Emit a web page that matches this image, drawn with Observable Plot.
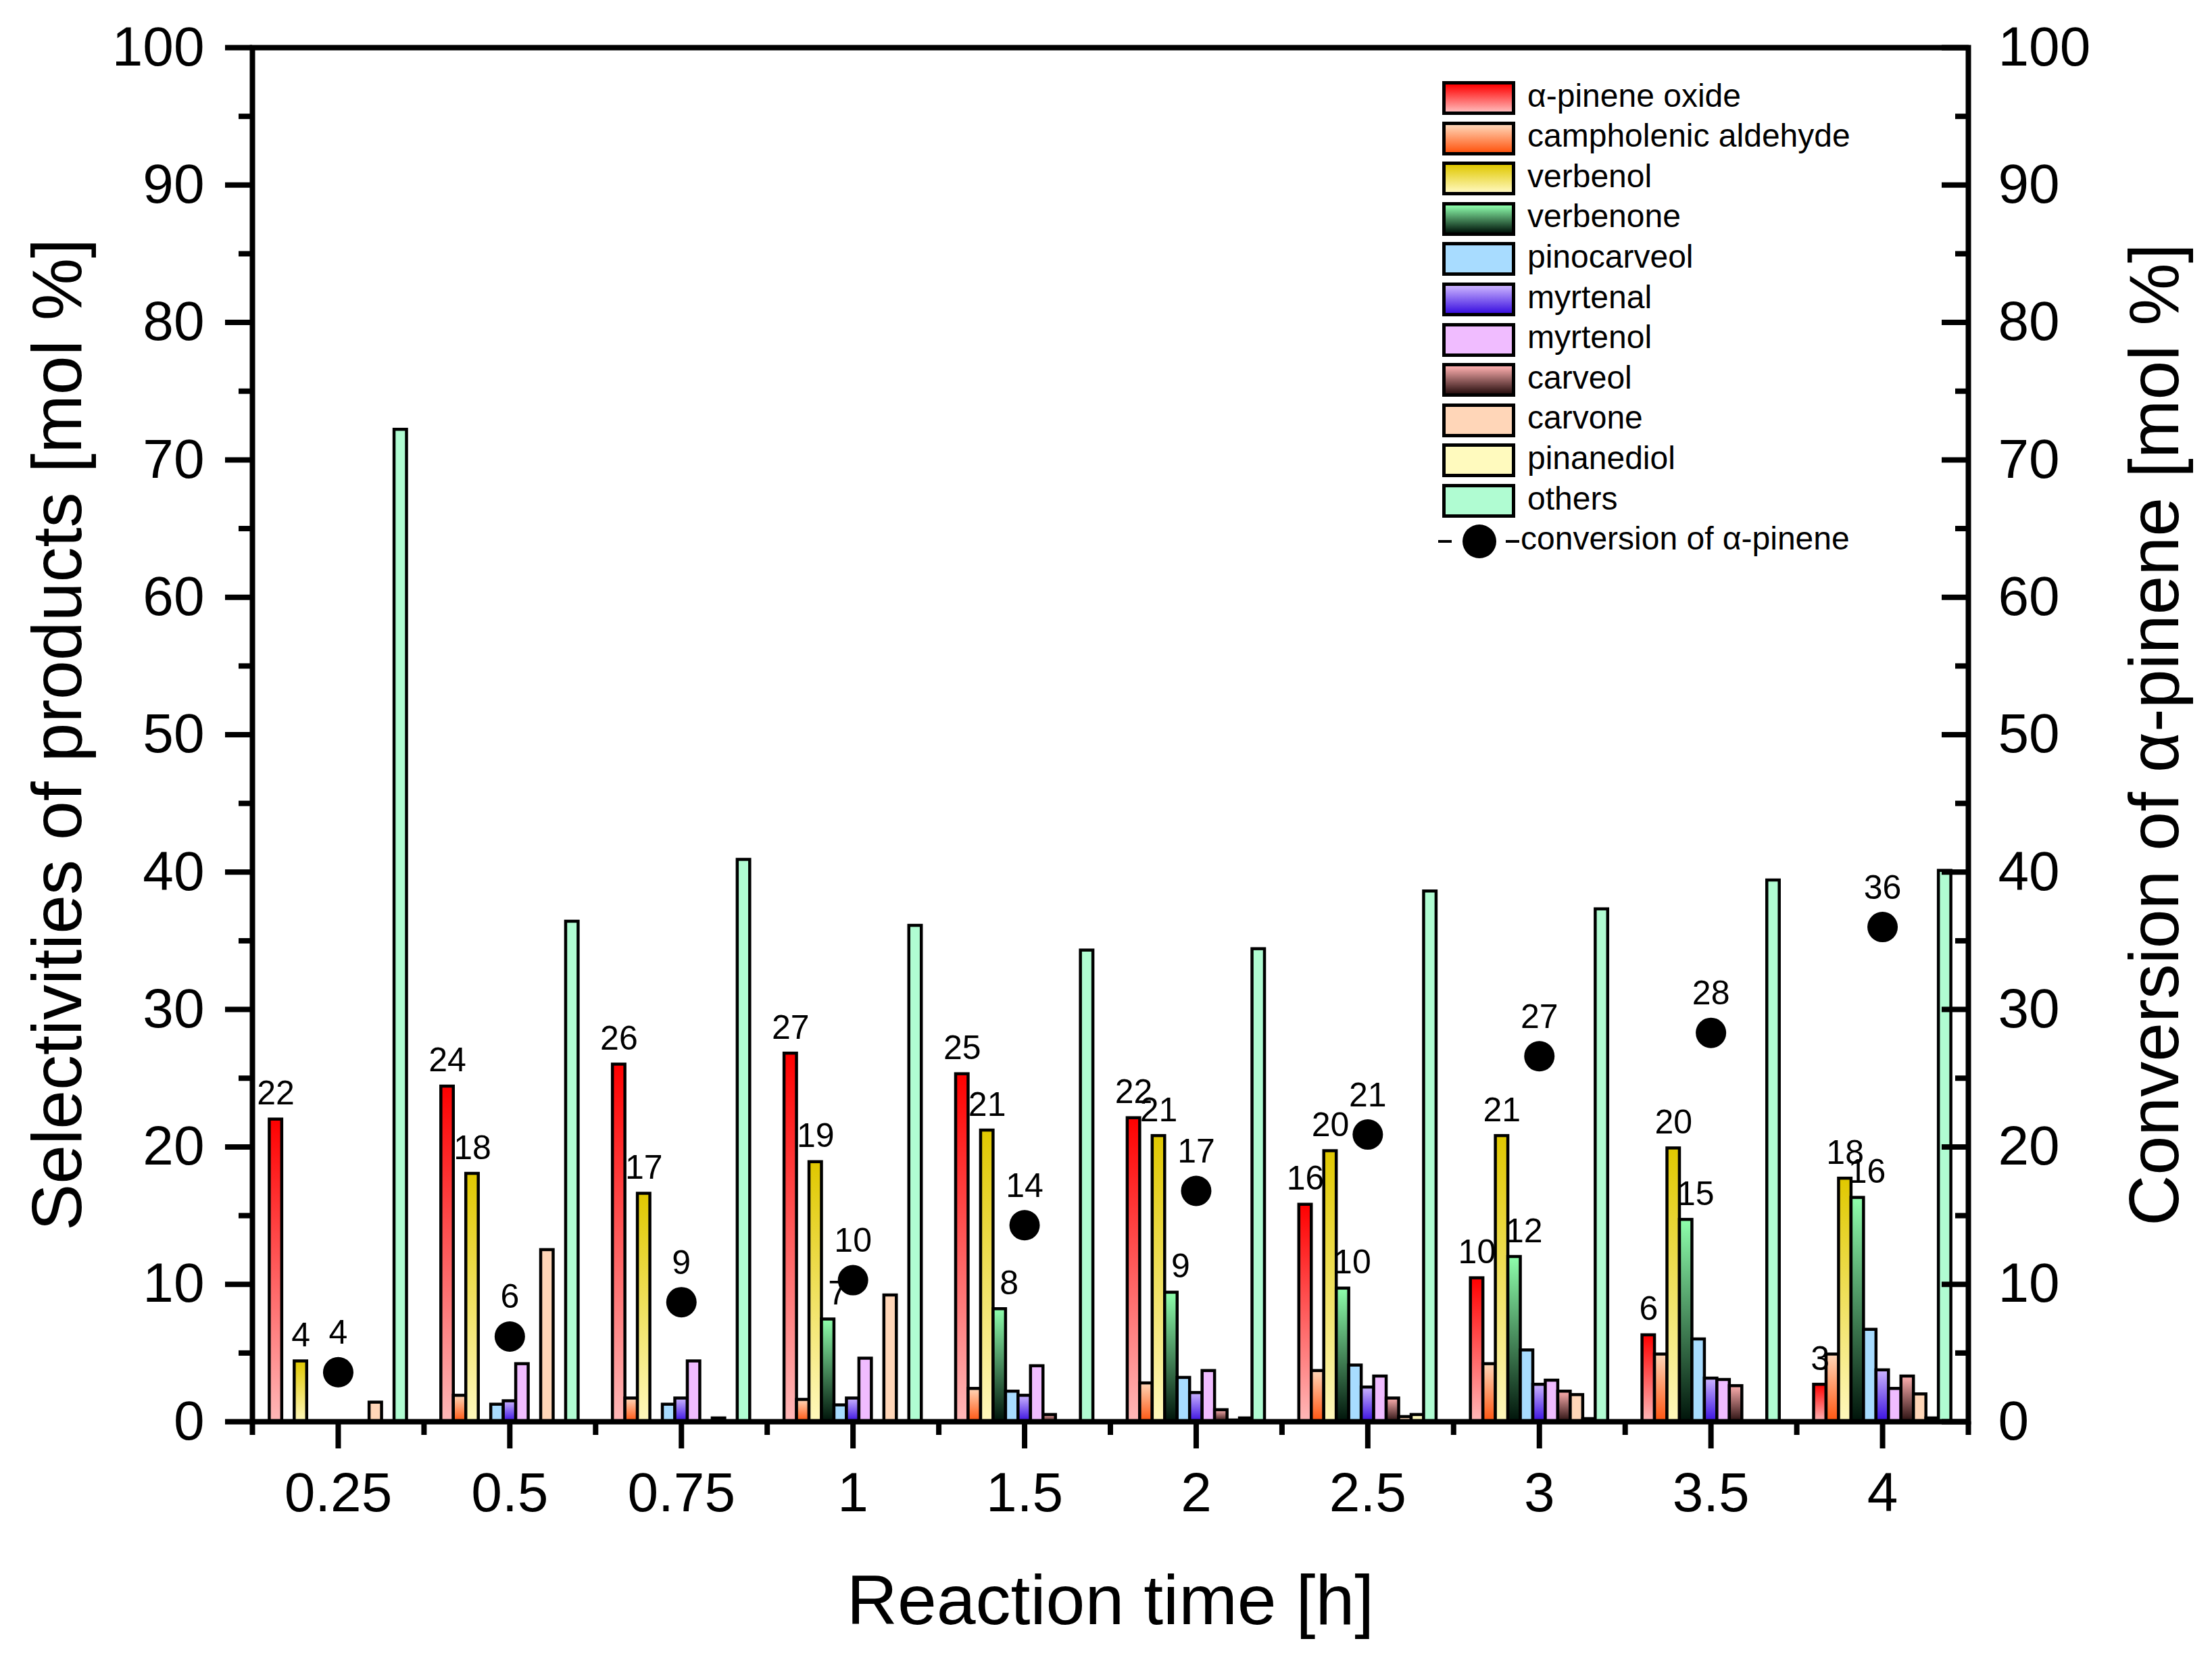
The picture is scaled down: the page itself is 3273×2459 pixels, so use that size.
<!DOCTYPE html>
<html>
<head>
<meta charset="utf-8">
<script src="https://cdn.jsdelivr.net/npm/d3@7"></script>
<script src="https://cdn.jsdelivr.net/npm/@observablehq/plot@0.6"></script>
<style>
  body { margin: 0; background: #fff; }
  #wrap { position: relative; width: 3273px; height: 2459px; font-family: "Liberation Sans", Arial, sans-serif; background:#fff; }
  #legend { position: absolute; left: 0; top: 0; }
  .lrow { position: absolute; height: 50px; display: flex; align-items: center; font-size: 48px; color: #000; white-space: nowrap; }
  .sw { box-sizing: border-box; width: 108px; height: 50px; border: 5px solid #000; }
</style>
</head>
<body>
<div id="wrap"></div>
<script>
// ---------------- data ----------------
const times = ["0.25", "0.5", "0.75", "1", "1.5", "2", "2.5", "3", "3.5", "4"];
const products = ["α-pinene oxide", "campholenic aldehyde", "verbenol", "verbenone", "pinocarveol",
  "myrtenal", "myrtenol", "carveol", "carvone", "pinanediol", "others"];

const pineneOxide         = [22.0, 24.4, 26.0, 26.8, 25.3, 22.1, 15.8, 10.45, 6.3, 2.7];
const campholenicAldehyde = [0, 1.9, 1.7, 1.6, 2.4, 2.8, 3.7, 4.2, 4.9, 4.9];
const verbenol            = [4.4, 18.05, 16.6, 18.9, 21.2, 20.8, 19.7, 20.8, 19.9, 17.7];
const verbenone           = [0, 0, 0, 7.45, 8.2, 9.4, 9.7, 12.0, 14.7, 16.3];
const pinocarveol         = [0, 1.25, 1.25, 1.2, 2.2, 3.2, 4.1, 5.2, 6.0, 6.7];
const myrtenal            = [0, 1.5, 1.7, 1.7, 1.9, 2.1, 2.5, 2.7, 3.15, 3.75];
const myrtenol            = [0, 4.2, 4.4, 4.6, 4.05, 3.7, 3.3, 3.0, 3.05, 2.4];
const carveol             = [0, 0, 0, 0, 0.5, 0.85, 1.7, 2.2, 2.6, 3.3];
const carvone             = [1.4, 12.5, 0.25, 9.2, 0, 0.1, 0.35, 1.95, 0, 2.0];
const pinanediol          = [0, 0, 0, 0, 0, 0.25, 0.5, 0.2, 0, 0.25];
const others              = [72.2, 36.4, 40.9, 36.1, 34.3, 34.4, 38.6, 37.3, 39.4, 40.1];
const conversion          = [3.6, 6.2, 8.7, 10.3, 14.3, 16.8, 20.9, 26.6, 28.3, 36.0];

const yTicks = [0, 10, 20, 30, 40, 50, 60, 70, 80, 90, 100];

// ---------------- styles ----------------
const gradientStops = [
  ["#ff0000", "#ffb8b8"], // α-pinene oxide
  ["#ffd6b8", "#ff5510"], // campholenic aldehyde
  ["#e0c800", "#fff8bc"], // verbenol
  ["#8effac", "#00140a"], // verbenone
  ["#a8dcff", "#a8dcff"], // pinocarveol
  ["#ccb4ff", "#3a10e0"], // myrtenal
  ["#f0bcff", "#f0bcff"], // myrtenol
  ["#ffb0b0", "#2a1010"], // carveol
  ["#ffd6b8", "#ffd6b8"], // carvone
  ["#fffabe", "#fffabe"], // pinanediol
  ["#b0fcd2", "#b0fcd2"]  // others
];

// ---------------- tidy table ----------------
const series = [pineneOxide, campholenicAldehyde, verbenol, verbenone, pinocarveol, myrtenal,
  myrtenol, carveol, carvone, pinanediol, others];
const rows = [];
series.forEach((vals, k) => vals.forEach((v, i) => rows.push({i, k, time: times[i], product: products[k], value: v})));
const convRows = conversion.map((v, i) => ({i, time: times[i], value: v}));

const nProd = products.length;
const w = 0.8 / nProd;
const xLeft = d => d.i - 0.4 + d.k * w;
const xRight = d => d.i - 0.4 + (d.k + 1) * w;
const xMid = d => d.i - 0.4 + (d.k + 0.5) * w;

function defsMark() {
  const ns = "http://www.w3.org/2000/svg";
  const defs = document.createElementNS(ns, "defs");
  gradientStops.forEach(([top, bottom], k) => {
    const lg = document.createElementNS(ns, "linearGradient");
    lg.setAttribute("id", "grad" + k);
    lg.setAttribute("x1", "0"); lg.setAttribute("y1", "0");
    lg.setAttribute("x2", "0"); lg.setAttribute("y2", "1");
    [[0, top], [1, bottom]].forEach(([o, c]) => {
      const s = document.createElementNS(ns, "stop");
      s.setAttribute("offset", o);
      s.setAttribute("stop-color", c);
      lg.appendChild(s);
    });
    defs.appendChild(lg);
  });
  return defs;
}

const barMarks = products.map((p, k) =>
  Plot.rectY(rows.filter(d => d.k === k), {
    x1: xLeft, x2: xRight, y1: 0, y2: "value",
    fill: `url(#grad${k})`, stroke: "black", strokeWidth: 4.5
  })
);

const labelRowsA = rows.filter(d => (d.k === 0 || d.k === 2) && d.value > 0);
const labelRowsB = rows.filter(d => d.k === 3 && d.value > 0);

const chart = Plot.plot({
  width: 3273,
  height: 2459,
  marginLeft: 373,
  marginRight: 361,
  marginTop: 70,
  marginBottom: 356,
  style: {fontFamily: '"Liberation Sans", Arial, sans-serif', background: "white", color: "black"},
  x: {domain: [-0.5, 9.5], label: null},
  y: {domain: [0, 100], label: null},
  marks: [
    defsMark,
    ...barMarks,
    Plot.text(labelRowsA, {x: xMid, y: "value", text: d => String(Math.round(d.value)), lineAnchor: "bottom", dy: -22, fontSize: 50}),
    Plot.text(labelRowsB, {x: xMid, y: "value", text: d => String(Math.round(d.value)), lineAnchor: "bottom", dy: -22, dx: 14, fontSize: 50}),
    Plot.dot(convRows, {x: "i", y: "value", r: 22.5, fill: "black", stroke: "none"}),
    Plot.text(convRows, {x: "i", y: "value", text: d => String(Math.round(d.value)), lineAnchor: "bottom", dy: -42, fontSize: 50}),
    // axes
    Plot.axisY(yTicks, {anchor: "left", tickSize: 40, tickPadding: 31, fontSize: 82, strokeWidth: 8, label: null}),
    Plot.axisY(d3.range(5, 100, 10), {anchor: "left", tickSize: 20, fill: "none", strokeWidth: 8, label: null}),
    Plot.axisY(yTicks, {anchor: "right", tickSize: 40, insetRight: 40, tickPadding: 44, fontSize: 82, strokeWidth: 8, label: null}),
    Plot.axisY(d3.range(5, 100, 10), {anchor: "right", tickSize: 20, insetRight: 20, fill: "none", strokeWidth: 8, label: null}),
    Plot.axisX(d3.range(times.length), {anchor: "bottom", tickSize: 40, tickPadding: 34, tickFormat: i => times[i], fontSize: 82, strokeWidth: 8, label: null}),
    Plot.axisX(d3.range(-0.5, times.length, 1), {anchor: "bottom", tickSize: 20, fill: "none", strokeWidth: 8, label: null}),
    Plot.frame({stroke: "black", strokeWidth: 8}),
    // titles
    Plot.text(["Selectivities of products [mol %]"], {frameAnchor: "left", dx: -287, rotate: -90, textAnchor: "middle", lineAnchor: "middle", fontSize: 104}),
    Plot.text(["Conversion of α-pinene [mol %]"], {frameAnchor: "right", dx: 277, rotate: -90, textAnchor: "middle", lineAnchor: "middle", fontSize: 104}),
    Plot.text(["Reaction time [h]"], {frameAnchor: "bottom", dy: 266, textAnchor: "middle", lineAnchor: "middle", fontSize: 104})
  ]
});

const wrap = document.getElementById("wrap");
wrap.appendChild(chart);

// ---------------- legend (inside plot area, top right) ----------------
const legend = document.createElement("div");
legend.id = "legend";
const rowPitch = 59.6, firstCenter = 145;
products.forEach((p, k) => {
  const row = document.createElement("div");
  row.className = "lrow";
  row.style.left = "2134px";
  row.style.top = (firstCenter + k * rowPitch - 25) + "px";
  const sw = document.createElement("div");
  sw.className = "sw";
  sw.style.background = `linear-gradient(to bottom, ${gradientStops[k][0]}, ${gradientStops[k][1]})`;
  const tx = document.createElement("span");
  tx.textContent = p;
  tx.style.marginLeft = "18px";
  tx.style.position = "relative";
  tx.style.top = "-4px";
  row.appendChild(sw);
  row.appendChild(tx);
  legend.appendChild(row);
});
{
  const row = document.createElement("div");
  row.className = "lrow";
  row.style.left = "2128px";
  row.style.top = (firstCenter + nProd * rowPitch - 25) + "px";
  const ns = "http://www.w3.org/2000/svg";
  const s = document.createElementNS(ns, "svg");
  s.setAttribute("width", "122"); s.setAttribute("height", "50");
  const l1 = document.createElementNS(ns, "line");
  l1.setAttribute("x1", "0"); l1.setAttribute("x2", "20"); l1.setAttribute("y1", "25"); l1.setAttribute("y2", "25");
  l1.setAttribute("stroke", "black"); l1.setAttribute("stroke-width", "4");
  const l2 = document.createElementNS(ns, "line");
  l2.setAttribute("x1", "100"); l2.setAttribute("x2", "120"); l2.setAttribute("y1", "25"); l2.setAttribute("y2", "25");
  l2.setAttribute("stroke", "black"); l2.setAttribute("stroke-width", "4");
  const c = document.createElementNS(ns, "circle");
  c.setAttribute("cx", "61"); c.setAttribute("cy", "25"); c.setAttribute("r", "25"); c.setAttribute("fill", "black");
  s.appendChild(l1); s.appendChild(l2); s.appendChild(c);
  const tx = document.createElement("span");
  tx.textContent = "conversion of α-pinene";
  tx.style.position = "relative";
  tx.style.top = "-4px";
  row.appendChild(s);
  row.appendChild(tx);
  legend.appendChild(row);
}
wrap.appendChild(legend);
</script>
</body>
</html>
